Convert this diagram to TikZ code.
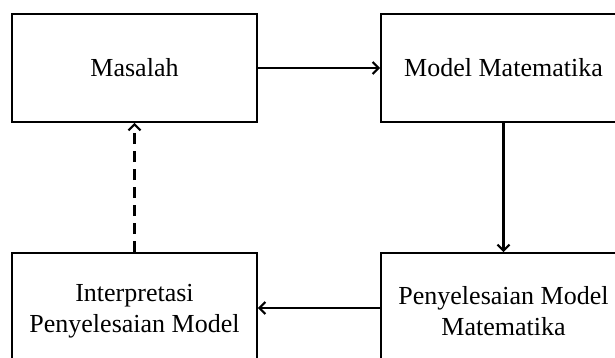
\documentclass[tikz,border=0pt]{standalone}
\usepackage{fontspec}
\setmainfont{Liberation Serif}
\usetikzlibrary{arrows.meta}
\begin{document}
\begin{tikzpicture}[x=1pt,y=1pt,
  box/.style={draw, line width=1.6pt, minimum width=245pt, minimum height=108pt, align=center, inner sep=0pt, font=\fontsize{26}{31}\selectfont},
  conn/.style={draw, line width=2.2pt, -{Straight Barb[length=6pt,width=12pt]}}]
\useasboundingbox (0,0) rectangle (615,-357);
\clip (0,0) rectangle (615,-357);
\fill[white] (0,0) rectangle (615,-357);
\node[box] (m) at (134.5,-68) {Masalah};
\node[box] (mm) at (503.5,-68) {Model Matematika};
\node[box, minimum height=116pt] (pm) at (503.5,-311) {Penyelesaian Model\\Matematika};
\node[box, minimum height=116pt] (ip) at (134.5,-311) {Interpretasi\\Penyelesaian Model};
\draw[conn] (m.east) -- (mm.west);
\draw[conn] (mm.south) -- (pm.north);
\draw[conn] ([yshift=3pt]pm.west) -- ([yshift=3pt]ip.east);
\draw[conn, dash pattern=on 11pt off 7pt] (ip.north) -- (m.south);
\end{tikzpicture}
\end{document}
